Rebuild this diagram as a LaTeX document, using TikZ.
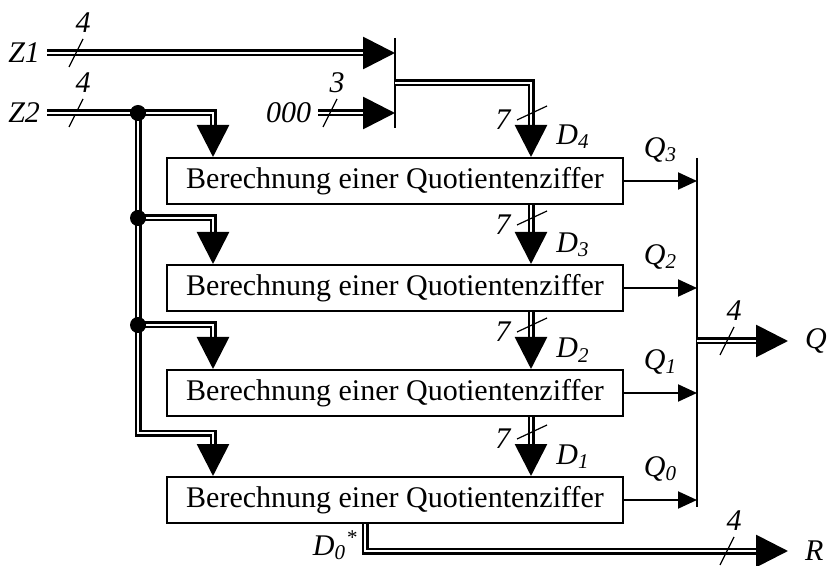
\documentclass[tikz,border=0pt]{standalone}
\usepackage{fontspec}
\setmainfont{Liberation Serif}
\usetikzlibrary{arrows.meta}

% Busbreite: Querstrich auf waagrechtem bzw. senkrechtem Bus
\newcommand{\quer}[2]{\draw[line width=0.6pt] ([shift={(-7,14)}]#1) -- ([shift={(7,-14)}]#1) node[lbl, above] {#2};}
\newcommand{\laengs}[2]{\draw[line width=0.6pt] ([shift={(15,-7)}]#1) -- ([shift={(-15,7)}]#1) node[lbl, left] {#2};}

\begin{document}
\begin{tikzpicture}[x=0.5pt,y=-0.5pt,>={Triangle[length=16pt,width=16pt]},line width=1pt,font=\fontsize{15}{18}\selectfont]
  \tikzstyle{stage}=[rectangle, draw, minimum width=228pt, minimum height=23pt, inner sep=0pt]
  \tikzstyle{bus}=[double=white, double distance=0.7pt, line width=1.4pt]
  \tikzstyle{sig}=[-{Triangle[length=9.5pt,width=8.5pt]}]
  \tikzstyle{lbl}=[font=\fontsize{15}{18}\selectfont\itshape, inner sep=3pt]
  \useasboundingbox (0,0) rectangle (829,566);

  % vier Stufen
  \node[stage] (s3) at (395,181) {Berechnung einer Quotientenziffer};
  \node[stage] (s2) at (395,288) {Berechnung einer Quotientenziffer};
  \node[stage] (s1) at (395,393) {Berechnung einer Quotientenziffer};
  \node[stage] (s0) at (395,500) {Berechnung einer Quotientenziffer};

  % Eingaenge
  \node[lbl, anchor=east] (z1) at (47,53) {Z1};
  \node[lbl, anchor=east] (z2) at (47,113) {Z2};
  \node[lbl, anchor=east] (null) at (318,113) {000};
  \coordinate (muxt) at (395,38);
  \coordinate (muxb) at (395,128);
  \coordinate (m) at (395,83);
  \coordinate (d) at (531,83);
  \coordinate (t) at (213,113);
  \coordinate (j3) at (138,113);
  \coordinate (j2) at (138,218);
  \coordinate (j1) at (138,325);
  \coordinate (j0) at (138,433);

  \draw (muxt) -- (muxb);
  \draw[bus,->] (z1) -- (z1 -| muxt);
  \draw[bus,->] (null) -- (null -| muxb);
  \quer{76,53}{4}
  \quer{76,113}{4}
  \quer{330,113}{3}

  % Divisor an alle Stufen
  \draw[bus,->] (z2) -- (t) -- (t |- s3.north);
  \draw[bus,->] (j3) -- (j0) -- (j0 -| t) -- (t |- s0.north);
  \draw[bus,->] (j2) -- (j2 -| t) -- (t |- s2.north);
  \draw[bus,->] (j1) -- (j1 -| t) -- (t |- s1.north);
  \foreach \j in {j3,j2,j1} \fill (\j) circle (8);

  % Teilrest von Stufe zu Stufe
  \draw[bus,->] (m) -- (d) -- node[lbl, right=9pt, pos=0.73] {D\textsubscript{4}} (d |- s3.north);
  \draw[bus,->] (s3.south -| d) -- node[lbl, right=9pt, pos=0.67] {D\textsubscript{3}} (s2.north -| d);
  \draw[bus,->] (s2.south -| d) -- node[lbl, right=9pt, pos=0.67] {D\textsubscript{2}} (s1.north -| d);
  \draw[bus,->] (s1.south -| d) -- node[lbl, right=9pt, pos=0.67] {D\textsubscript{1}} (s0.north -| d);
  \laengs{532,113}{7}
  \laengs{532,218}{7}
  \laengs{532,325}{7}
  \laengs{532,432}{7}

  % Quotientenziffern
  \coordinate (qt) at (697,158);
  \coordinate (qb) at (697,507);
  \coordinate (qo) at (697,341);
  \draw (qt) -- (qb);
  \foreach \i in {0,...,3}
    \draw[sig] (s\i) -- node[lbl, above=6pt] {Q\textsubscript{\i}} (s\i -| qt);
  \node[lbl, anchor=west, inner sep=8pt] (q) at (788,341) {Q};
  \draw[bus,->] (qo) -- (q);
  \quer{727,341}{4}

  % Rest
  \coordinate (r0) at (365,551);
  \node[lbl, anchor=west, inner sep=8pt] (r) at (788,551) {R};
  \draw[bus,->] (s0.south -| r0) -- node[lbl, left, pos=0.8] {D\textsubscript{0}\textsuperscript{*}} (r0) -- (r);
  \quer{727,551}{4}
\end{tikzpicture}
\end{document}
